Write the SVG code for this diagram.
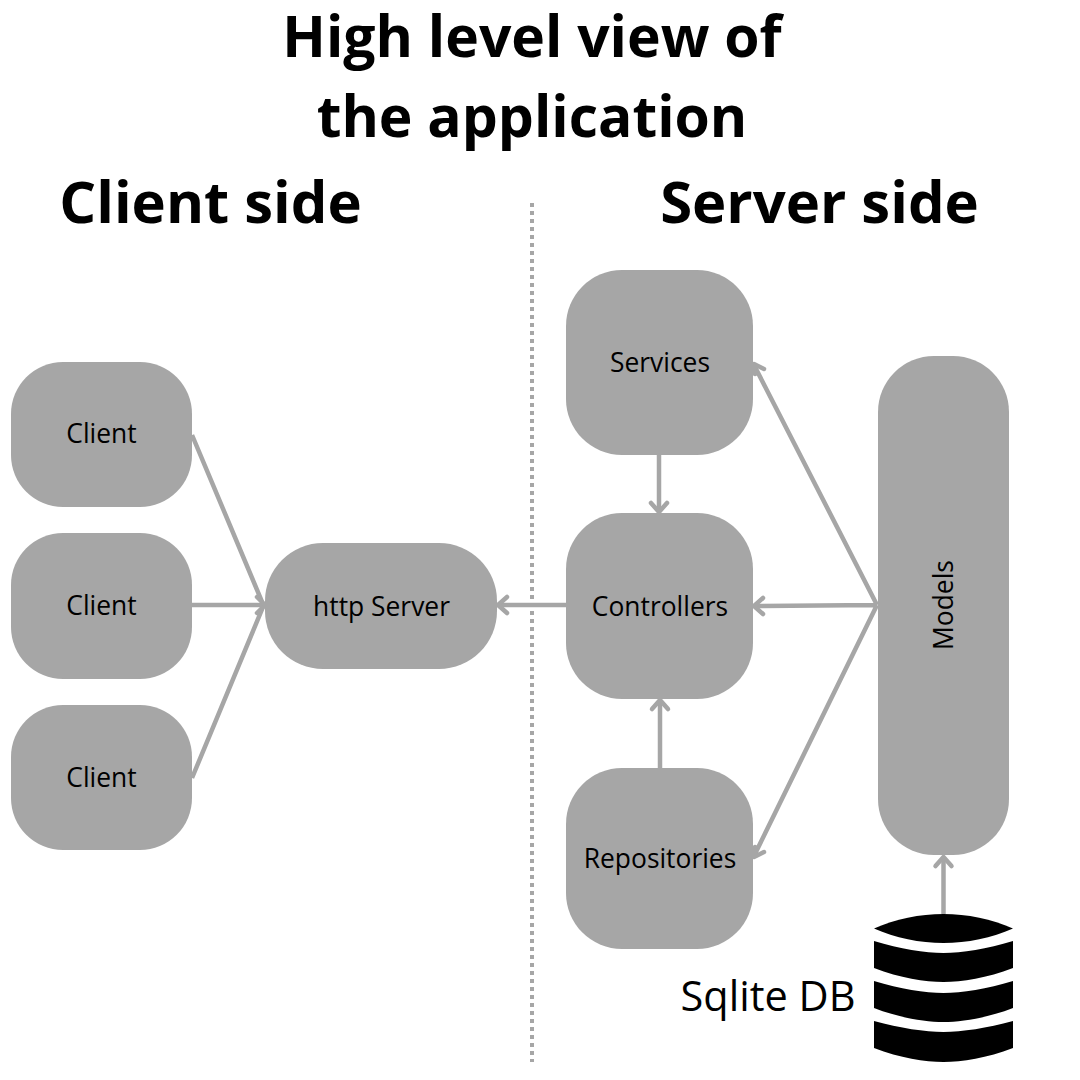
<svg xmlns="http://www.w3.org/2000/svg" width="1080" height="1080" viewBox="0 0 1080 1080">
<style>
.n{fill:#a6a6a6}
.t{font-family:"Open Sans","Noto Sans",sans-serif;font-size:26.4px;fill:#000;text-anchor:middle}
.h{font-family:"Open Sans","Noto Sans",sans-serif;font-size:57px;font-weight:700;fill:#000;text-anchor:middle}
.s{font-size:58px}
.c{fill:none;stroke:#a6a6a6;stroke-width:4.5}
.a{fill:none;stroke:#a6a6a6;stroke-width:4.5;stroke-linecap:round;stroke-linejoin:round}
</style>
<rect width="1080" height="1080" fill="#fff"/>
<g id="titles">
<text class="h" x="532" y="57">High level view of</text>
<text class="h" x="532" y="137">the application</text>
<text class="h s" x="210.500" y="223">Client side</text>
<text class="h s" x="819.500" y="223">Server side</text>
</g>
<line id="divider" x1="532" y1="203" x2="532" y2="1062" stroke="#a6a6a6" stroke-width="4" stroke-dasharray="4 4"/>
<g id="connectors">
<path class="c" d="M192 435L263 604M192 605H264M192 778L263 607"/>
<path class="a" d="M257 597L265 605L257 613"/>
<path class="c" d="M566 605H499"/>
<path class="a" d="M507 597L498 605L507 613"/>
<path class="c" d="M659 455V512"/>
<path class="a" d="M651 503L659 512L667 503"/>
<path class="c" d="M660 768V700"/>
<path class="a" d="M652 709L660 700L668 709"/>
<path class="c" d="M877 605L754 365M877 605L754 606M877 605L754 856"/>
<path class="a" d="M755 374L754 364L764 369"/>
<path class="a" d="M763 598L754 606L763 614"/>
<path class="a" d="M764 852L754 857L755 847"/>
<path class="c" d="M943.500 914V857"/>
<path class="a" d="M935.500 866L943.500 857L951.500 866"/>
</g>
<g id="client1"><rect class="n" x="11" y="362" width="181" height="145" rx="52"/><text class="t" x="101.500" y="443">Client</text></g>
<g id="client2"><rect class="n" x="11" y="533" width="181" height="146" rx="52"/><text class="t" x="101.500" y="615">Client</text></g>
<g id="client3"><rect class="n" x="11" y="705" width="181" height="145" rx="52"/><text class="t" x="101.500" y="787">Client</text></g>
<g id="http-server"><rect class="n" x="265" y="543" width="232" height="126" rx="58"/><text class="t" x="381.500" y="616">http Server</text></g>
<g id="services"><rect class="n" x="566" y="270" width="187" height="185" rx="56"/><text class="t" x="660" y="372">Services</text></g>
<g id="controllers"><rect class="n" x="566" y="513" width="187" height="186" rx="56"/><text class="t" x="660" y="616">Controllers</text></g>
<g id="repositories"><rect class="n" x="566" y="768" width="187" height="181" rx="56"/><text class="t" x="660" y="868">Repositories</text></g>
<g id="models"><rect class="n" x="878" y="356" width="131" height="499" rx="56"/><text class="t" transform="translate(953 605) rotate(-90)">Models</text></g>
<g id="sqlite-db">
<path d="M874 928.500C895 919 920 914 943.500 914C967 914 992 919 1013 928.500C992 938 967 943 943.500 943C920 943 895 938 874 928.500Z"/>
<path d="M874 941C900 949 925 953 943.500 953C962 953 987 949 1013 941V968C987 978 962 982 943.500 982C925 982 900 978 874 968Z"/>
<path d="M874 981C900 989 925 993 943.500 993C962 993 987 989 1013 981V1008C987 1018 962 1022 943.500 1022C925 1022 900 1018 874 1008Z"/>
<path d="M874 1021C900 1028 925 1032 943.500 1032C962 1032 987 1028 1013 1021V1048C987 1058 962 1062 943.500 1062C925 1062 900 1058 874 1048Z"/>
<text x="768" y="1011" font-family="'Open Sans','Noto Sans',sans-serif" font-size="41.5" text-anchor="middle">Sqlite DB</text>
</g>
</svg>
